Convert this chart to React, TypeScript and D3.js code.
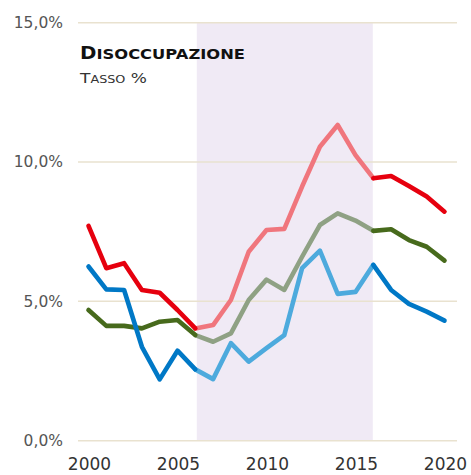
import React from "react";
import * as d3 from "d3";

const years = [2000, 2001, 2002, 2003, 2004, 2005, 2006, 2007, 2008, 2009, 2010, 2011, 2012, 2013, 2014, 2015, 2016, 2017, 2018, 2019, 2020];
const redValues = [7.71, 6.19, 6.37, 5.41, 5.31, 4.69, 4.03, 4.15, 5.05, 6.78, 7.56, 7.6, 9.12, 10.55, 11.33, 10.25, 9.42, 9.5, 9.14, 8.76, 8.22];
const greenValues = [4.69, 4.12, 4.12, 4.03, 4.27, 4.33, 3.79, 3.55, 3.85, 5.05, 5.78, 5.41, 6.6, 7.74, 8.16, 7.9, 7.53, 7.59, 7.2, 6.96, 6.46];
const blueValues = [6.25, 5.43, 5.41, 3.37, 2.2, 3.23, 2.56, 2.21, 3.5, 2.84, 3.32, 3.79, 6.19, 6.82, 5.27, 5.34, 6.31, 5.41, 4.91, 4.63, 4.31];
const yTicks = [0, 5, 10, 15];
const yTickLabels = ["0,0%", "5,0%", "10,0%", "15,0%"];
const xTicks = [2000, 2005, 2010, 2015, 2020];
const shadeRange = [2006, 2016];

const seriesList = [
  { name: "red", values: redValues, dark: "#e6000e", light: "#f0767d" },
  { name: "green", values: greenValues, dark: "#476a1c", light: "#8fa184" },
  { name: "blue", values: blueValues, dark: "#0078c6", light: "#4daadd" },
];

export default function App() {
  const W = 471;
  const H = 475;
  const x = d3.scaleLinear().domain([2000, 2020]).range([88.5, 444.5]);
  const y = d3.scaleLinear().domain([0, 15]).range([440.7, 22.7]);
  const line = d3
    .line<[number, number]>()
    .x((d) => x(d[0]))
    .y((d) => y(d[1]));

  const seg = (vals: number[], a: number, b: number) =>
    years
      .map((yr, i) => [yr, vals[i]] as [number, number])
      .filter((d) => d[0] >= a && d[0] <= b);

  const font = "'DejaVu Sans', sans-serif";

  return (
    <svg
      width={W}
      height={H}
      style={{ position: "absolute", left: 0, top: 0, background: "#fff" }}
    >
      <rect
        x={x(shadeRange[0]) + 1.5}
        y={y(15)}
        width={x(shadeRange[1]) - x(shadeRange[0]) - 2}
        height={y(0) - y(15)}
        fill="#f0eaf5"
      />
      {yTicks.map((t, i) => (
        <g key={t}>
          <line x1={78} x2={457} y1={y(t)} y2={y(t)} stroke="#e9e2cf" strokeWidth={1.5} />
          <text
            x={63}
            y={y(t)}
            dy="0.35em"
            textAnchor="end"
            fontFamily={font}
            fontSize={15.5}
            fill="#555"
          >
            {yTickLabels[i]}
          </text>
        </g>
      ))}
      {xTicks.map((t) => (
        <text
          key={t}
          x={x(t) + 1}
          y={470}
          textAnchor="middle"
          fontFamily={font}
          fontSize={17}
          fill="#333"
        >
          {t}
        </text>
      ))}
      {seriesList.map((s) => (
        <g key={s.name} fill="none" strokeWidth={4.6} strokeLinejoin="round" strokeLinecap="round">
          <path d={line(seg(s.values, shadeRange[0], shadeRange[1])) || ""} stroke={s.light} />
          <path d={line(seg(s.values, 2000, shadeRange[0])) || ""} stroke={s.dark} />
          <path d={line(seg(s.values, shadeRange[1], 2020)) || ""} stroke={s.dark} />
        </g>
      ))}
      <text x={80} y={59} fontFamily={font} fontWeight="bold" fill="#111" textLength={165} lengthAdjust="spacingAndGlyphs">
        <tspan fontSize={17}>D</tspan>
        <tspan fontSize={14}>ISOCCUPAZIONE</tspan>
      </text>
      <text x={80} y={83} fontFamily={font} fill="#333" textLength={67} lengthAdjust="spacingAndGlyphs">
        <tspan fontSize={14}>T</tspan>
        <tspan fontSize={10.5}>ASSO</tspan>
        <tspan fontSize={14}> %</tspan>
      </text>
    </svg>
  );
}
